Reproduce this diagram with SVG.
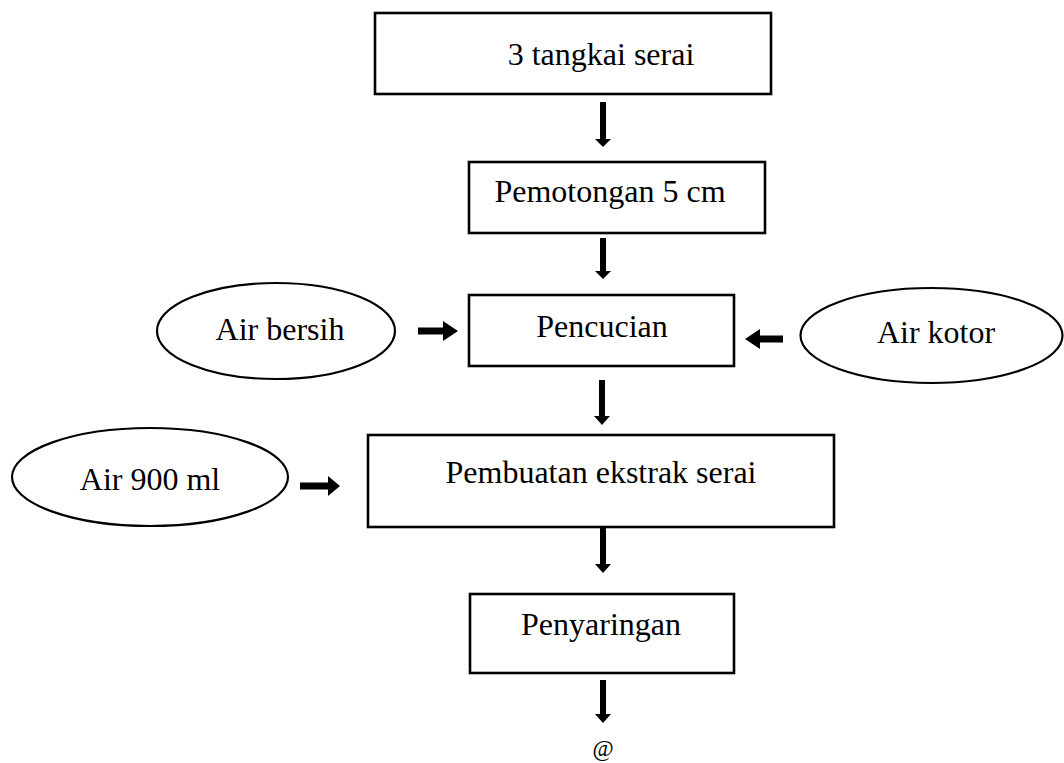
<svg xmlns="http://www.w3.org/2000/svg" width="1064" height="763" viewBox="0 0 1064 763">
<style>
.box{fill:#fff;stroke:#000;stroke-width:2.6}
.ell{fill:#fff;stroke:#000;stroke-width:2.2}
.t{font-family:"Liberation Serif","Times New Roman",serif;font-size:32px;fill:#000;text-anchor:middle}
.arr{fill:#000}
</style>
<rect width="1064" height="763" fill="#fff"/>
<g id="n1"><rect class="box" x="375" y="13" width="396" height="81"/><text class="t" x="601" y="65">3 tangkai serai</text></g>
<g id="n2"><rect class="box" x="469" y="162" width="296" height="71"/><text class="t" x="610" y="202">Pemotongan 5 cm</text></g>
<g id="n3"><rect class="box" x="469" y="295" width="265" height="71"/><text class="t" x="602" y="337">Pencucian</text></g>
<g id="n4"><rect class="box" x="368" y="435" width="466" height="92"/><text class="t" x="601" y="483">Pembuatan ekstrak serai</text></g>
<g id="n5"><rect class="box" x="470" y="594" width="264" height="79"/><text class="t" x="601" y="635">Penyaringan</text></g>
<g id="e1"><ellipse class="ell" cx="276" cy="331" rx="119" ry="48"/><text class="t" x="280" y="340">Air bersih</text></g>
<g id="e2"><ellipse class="ell" cx="931.5" cy="335.5" rx="131" ry="47.5"/><text class="t" x="936" y="343">Air kotor</text></g>
<g id="e3"><ellipse class="ell" cx="150" cy="477" rx="138" ry="49"/><text class="t" x="150" y="490">Air 900 ml</text></g>
<g id="end"><text x="603" y="756" style="font-family:'Liberation Serif','Times New Roman',serif;font-size:23px;text-anchor:middle">@</text></g>
<g id="connectors" class="arr">
<polygon points="600,102 606,102 606,139 611,139 603,147 595,139 600,139"/>
<polygon points="600,238 606,238 606,271 611,271 603,279 595,271 600,271"/>
<polygon points="599,380 605,380 605,416 610,416 602,425 594,416 599,416"/>
<polygon points="600,528 606,528 606,564 611,564 603,573 595,564 600,564"/>
<polygon points="600,680 606,680 606,714 611,714 603,723 595,714 600,714"/>
<polygon points="418,327.5 443,327.5 443,321 458,331 443,341 443,334.5 418,334.5"/>
<polygon points="783,335.5 760,335.5 760,329 745,339 760,349 760,342.5 783,342.5"/>
<polygon points="300,482.5 328,482.5 328,476 340,486 328,496 328,489.5 300,489.5"/>
</g>
</svg>
